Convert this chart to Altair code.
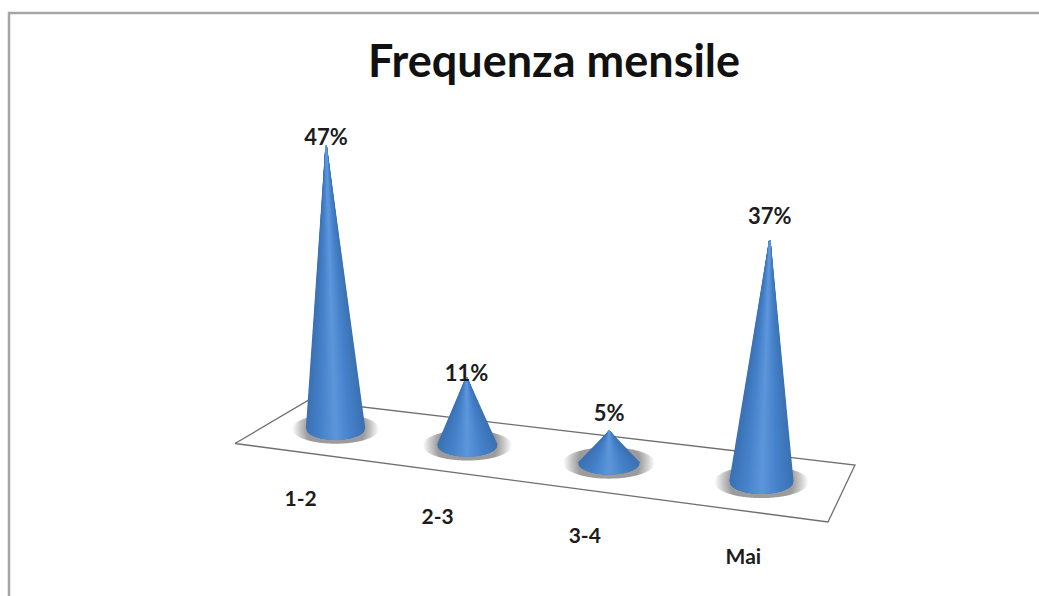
import math
import altair as alt
import pandas as pd

# Survey results
categories = ["1-2", "2-3", "3-4", "Mai"]
percentages = [47, 11, 5, 37]
title_text = "Frequenza mensile"

W, H = 1039, 596

# Floor plane of the 3D scene, as a perspective map of the unit square
FLOOR = [(235, 443.5), (828, 522), (855, 465), (308, 400.5)]
(x0, y0), (x1, y1), (x2, y2), (x3, y3) = FLOOR
dx1, dx2, dx3 = x1 - x2, x3 - x2, x0 - x1 + x2 - x3
dy1, dy2, dy3 = y1 - y2, y3 - y2, y0 - y1 + y2 - y3
den = dx1 * dy2 - dx2 * dy1
g_ = (dx3 * dy2 - dx2 * dy3) / den
h_ = (dx1 * dy3 - dx3 * dy1) / den
a_, b_, c_ = x1 - x0 + g_ * x1, x3 - x0 + h_ * x3, x0
d_, e_, f_ = y1 - y0 + g_ * y1, y3 - y0 + h_ * y3, y0


def project(u, v):
    w = g_ * u + h_ * v + 1
    return (a_ * u + b_ * v + c_) / w, (d_ * u + e_ * v + f_) / w, w


RADIUS, SQUASH, UNIT = 29.0, 11.0, 6.02  # base radius, base minor axis, px per percent
VANISH_X, VANISH_D = 545.0, 6240.0        # vertical lines converge towards this point
LABEL_LIFT = [8, 3, 17, 23]               # gap between a cone tip and its value label


def mix(c1, c2, t):
    p = [int(c1[i:i + 2], 16) for i in (1, 3, 5)]
    q = [int(c2[i:i + 2], 16) for i in (1, 3, 5)]
    return "#" + "".join(f"{round(a + (b - a) * t):02x}" for a, b in zip(p, q))


EDGE, MID, CORE = "#3c72b4", "#4682ca", "#5c95da"


def shade(t):
    a = abs(t)
    return mix(CORE, MID, a / 0.5) if a < 0.5 else mix(MID, EDGE, (a - 0.5) / 0.5)


w_first = project(0.5 / 4, 0.5)[2]
rulings, silhouettes, shadows, value_labels, axis_labels = [], [], [], [], []

for i, (cat, pct) in enumerate(zip(categories, percentages)):
    u = (i + 0.5) / 4
    cx, cy, w = project(u, 0.5)
    s = (w_first / w) ** 0.75
    r, b = RADIUS * s, SQUASH * s
    h = pct * UNIT * s
    ax, ay = cx + h * (cx - VANISH_X) / VANISH_D, cy - h

    # Grey halo lying on the floor under the cone
    rx, ry = r * 1.5, b * 1.35
    n = 80
    for k in range(n + 1):
        px = -rx + 2 * rx * k / n
        dy = ry * math.sqrt(max(0.0, 1 - (px / rx) ** 2))
        shadows.append({"cat": cat, "x": cx + px, "y": cy - dy, "y2": cy + dy})

    # Outline of the cone
    for k in range(n + 1):
        px = -r + 2 * r * k / n
        if cx + px <= ax:
            top = cy + (ay - cy) * (px + r) / (ax - cx + r)
        else:
            top = cy + (ay - cy) * (r - px) / (r - (ax - cx))
        silhouettes.append({"cat": cat, "x": cx + px, "y": top,
                            "y2": cy + b * math.sqrt(max(0.0, 1 - (px / r) ** 2))})

    # Straight rulings from the apex to the base rim carry the shading
    m = int(2 * r * 1.5)
    order = sorted(range(m + 1), key=lambda k: -abs(2 * k / m - 1))
    for k in order:
        t = 2 * k / m - 1
        rulings.append({"x": ax, "y": ay, "x2": cx + t * r,
                        "y2": cy + b * math.sqrt(max(0.0, 1 - t * t)), "shade": shade(t)})

    value_labels.append({"x": ax, "y": ay - LABEL_LIFT[i], "label": f"{pct}%"})
    axis_labels.append({"x": cx - 35 + 0.0397 * (cx - 335),
                        "y": cy + 71 + 0.012 * (cx - 335), "label": cat})

X = alt.X("x:Q", scale=alt.Scale(domain=[0, W], nice=False, zero=False), axis=None)
Y = alt.Y("y:Q", scale=alt.Scale(domain=[H, 0], nice=False, zero=False), axis=None)

floor_df = pd.DataFrame(
    [{"x": p[0], "y": p[1], "n": k} for k, p in enumerate(FLOOR + FLOOR[:1])]
)
floor = alt.Chart(floor_df).mark_line(color="#6f6f6f", strokeWidth=1.3, strokeJoin="miter").encode(
    X, Y, order="n:Q"
)

frame_df = pd.DataFrame({"x": [W, 9, 9], "y": [13, 13, H], "n": [0, 1, 2]})
frame = alt.Chart(frame_df).mark_line(color="#a6a6a6", strokeWidth=2.5, strokeJoin="miter").encode(
    X, Y, order="n:Q"
)

halo_fill = alt.RadialGradient(
    gradient="radial", x1=0.5, y1=0.5, r1=0, x2=0.5, y2=0.5, r2=0.5,
    stops=[
        alt.GradientStop(offset=0, color="#9a9a9a"),
        alt.GradientStop(offset=0.66, color="#9c9c9c"),
        alt.GradientStop(offset=0.82, color="#c8c8c8"),
        alt.GradientStop(offset=1, color="#ffffff"),
    ],
)
halos = [
    alt.Chart(pd.DataFrame([p for p in shadows if p["cat"] == c]))
    .mark_area(color=halo_fill)
    .encode(X, Y, y2="y2:Q")
    for c in categories
]

body = alt.Chart(pd.DataFrame(silhouettes)).mark_area(color=EDGE).encode(
    X, Y, y2="y2:Q", detail="cat:N"
)
shading = alt.Chart(pd.DataFrame(rulings)).mark_rule(strokeWidth=1.5).encode(
    X, Y, x2="x2:Q", y2="y2:Q", color=alt.Color("shade:N", scale=None, legend=None)
)

FONT = "Lato"
values_text = alt.Chart(pd.DataFrame(value_labels)).mark_text(
    font=FONT, fontWeight="bold", fontSize=22, color="#1c1c1c", align="center", baseline="middle"
).encode(X, Y, text="label:N")
axis_text = alt.Chart(pd.DataFrame(axis_labels)).mark_text(
    font=FONT, fontWeight="bold", fontSize=21, color="#1c1c1c", align="center", baseline="middle"
).encode(X, Y, text="label:N")
title = alt.Chart(pd.DataFrame([{"x": 554, "y": 63, "label": title_text}])).mark_text(
    font=FONT, fontWeight="bold", fontSize=45, color="#111111", align="center", baseline="middle"
).encode(X, Y, text="label:N")

chart = alt.layer(
    frame, floor, *halos, body, shading, values_text, axis_text, title
).properties(
    width=W, height=H, padding=0, background="#ffffff", autosize=alt.AutoSizeParams(type="none")
).configure_view(stroke=None)

chart.save("out.html", embed_options={"renderer": "svg", "actions": False})
